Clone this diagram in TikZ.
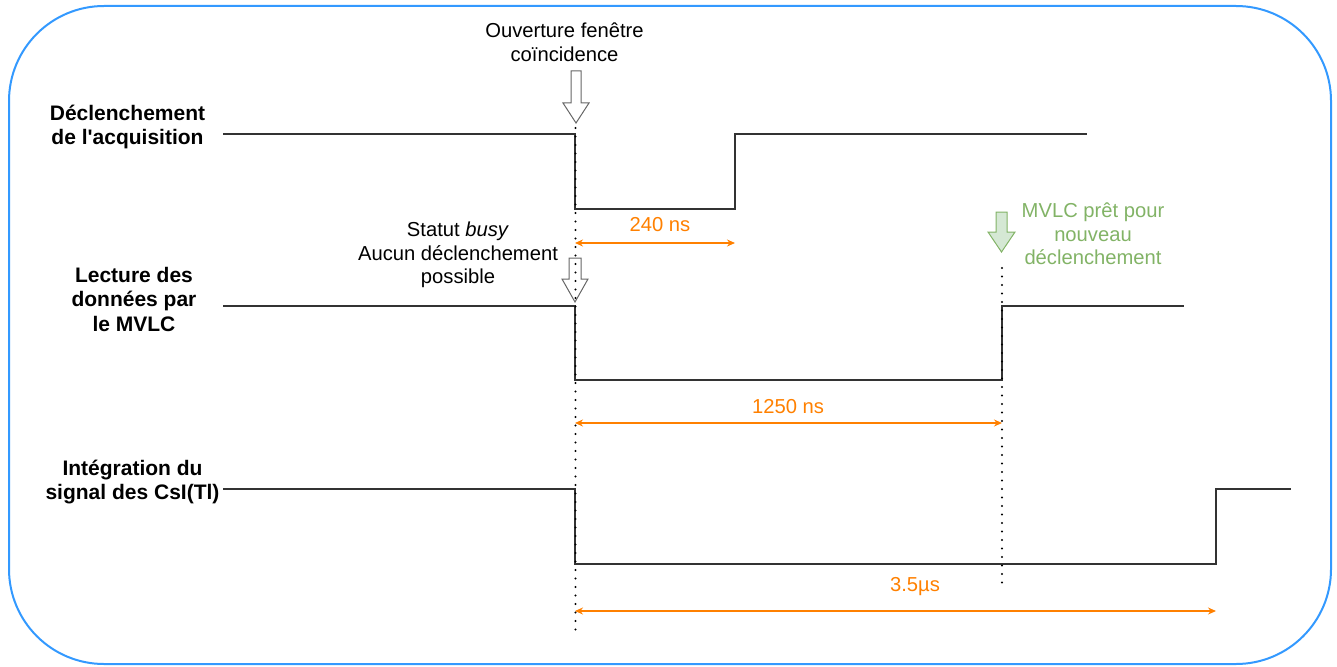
\documentclass[tikz,border=0pt]{standalone}
\usepackage{fontspec}
\setmainfont{Liberation Sans}
\usepackage{xcolor}
\usepackage{tikz}
\usetikzlibrary{arrows.meta}
\definecolor{frameblue}{HTML}{3399FF}
\definecolor{orange}{HTML}{FF8000}
\definecolor{green}{HTML}{82B366}
\definecolor{lightgreen}{HTML}{D5E8D4}
\definecolor{wave}{HTML}{333333}
\definecolor{muted}{HTML}{666666}

\begin{document}
\begin{tikzpicture}[x=1pt,y=-1pt,>={Stealth[length=8pt,width=7pt]},
  lbl/.style={font=\fontsize{21}{24.5}\selectfont\bfseries,align=center},
  txt/.style={font=\fontsize{20.2}{23.5}\selectfont,align=center},
  dim/.style={<->,orange,line width=1.3pt},
  sig/.style={wave,line width=1.3pt},
  guide/.style={line width=2.4pt,line cap=round,dash pattern=on 0pt off 8.5pt},
  blk/.style={draw=muted,fill=white,line width=1pt}]
\useasboundingbox (0,0) rectangle (1337,666);
\draw[frameblue,line width=2pt,rounded corners=95pt] (9,6) rectangle (1331,664);

% channel names
\node[lbl] (trig) at (127.5,127) {D\'eclenchement\\de l\textquotesingle acquisition};
\node[lbl] (read) at (134,299) {Lecture des\\donn\'ees par\\le MVLC};
\node[lbl] (integ) at (132.5,482) {Int\'egration du\\signal des CsI(Tl)};

% signal 1
\draw[sig] (223,134) -- (575,134) -- (575,209) -- (735,209) -- (735,134) -- (1087,134);
% signal 2
\draw[sig] (223,306) -- (575,306) -- (575,380) -- (1002,380) -- (1002,306) -- (1184,306);
% signal 3
\draw[sig] (223,489) -- (575,489) -- (575,564) -- (1216,564) -- (1216,489) -- (1291,489);

% opening of the window
\node[txt] (open) at (564.5,42) {Ouverture fen\^etre\\co\"incidence};
\draw[blk] (571,71) -- (581,71) -- (581,103) -- (589,103) -- (576,123)
  -- (563,103) -- (571,103) -- cycle;

% busy
\node[txt] (busy) at (458,255) {Statut \textit{busy}\\Aucun d\'eclenchement\\possible};
\draw[blk] (569,258) -- (581,258) -- (581,279) -- (588,279) -- (575,302)
  -- (562,279) -- (569,279) -- cycle;

% ready again
\node[txt,green] (ready) at (1093,234) {MVLC pr\^et pour\\nouveau\\d\'eclenchement};
\draw[draw=green,fill=lightgreen,line width=1pt] (996,212) -- (1007,212) -- (1007,232)
  -- (1015,232) -- (1001.5,252) -- (988,232) -- (996,232) -- cycle;

% guides
\coordinate (g0) at (575.5,128);
\coordinate (g1) at (575.5,637);
\coordinate (h0) at (1002,268);
\coordinate (h1) at (1002,583);
\draw[guide] (g0) -- (g1);
\draw[guide] (h0) -- (h1);

% durations
\coordinate (a0) at (575,243);
\coordinate (a1) at (735,243);
\coordinate (b0) at (575,423);
\coordinate (b1) at (1002,423);
\coordinate (c0) at (575,611);
\coordinate (c1) at (1216,611);
\draw[dim] (a0) -- (a1);
\draw[dim] (b0) -- (b1);
\draw[dim] (c0) -- (c1);
\node[txt,orange] (d240) at (660,225) {240 ns};
\node[txt,orange] (d1250) at (788,407) {1250 ns};
\node[txt,orange] (d35) at (915,587) {3.5µs};
\end{tikzpicture}
\end{document}
